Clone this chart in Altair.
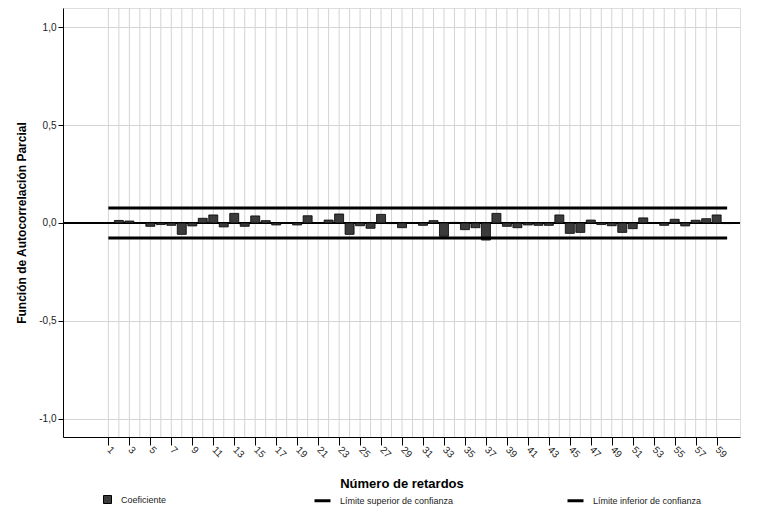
import altair as alt
import pandas as pd

# ---- data ----
lags = list(range(1, 61))
pacf = [0.001, 0.013, 0.010, -0.002, -0.017, -0.008, -0.012, -0.058, -0.015, 0.024,
        0.041, -0.020, 0.049, -0.017, 0.036, 0.012, -0.010, 0.002, -0.010, 0.037,
        0.002, 0.015, 0.046, -0.058, -0.014, -0.027, 0.044, -0.003, -0.024, 0.002,
        -0.012, 0.012, -0.068, 0.003, -0.034, -0.024, -0.087, 0.049, -0.017, -0.024,
        -0.010, -0.012, -0.012, 0.041, -0.053, -0.048, 0.015, -0.008, -0.014, -0.048,
        -0.029, 0.026, 0.002, -0.012, 0.019, -0.015, 0.014, 0.022, 0.041, -0.003]
serie_name = ["Coeficiente"]
limit_names = ["Límite superior de confianza", "Límite inferior de confianza"]
limit_values = [0.076, -0.076]
tick_lags = list(range(1, 60, 2))
grid_lags = list(range(1, 60))
y_ticks = [-1.0, -0.5, 0.0, 0.5, 1.0]

bars_df = pd.DataFrame({"lag": lags, "pacf": pacf, "serie": serie_name[0]})
lim_df = pd.DataFrame({"limite": limit_names, "valor": limit_values,
                       "desde": min(lags), "hasta": max(lags)})
grid_df = pd.DataFrame({"lag": grid_lags})

FONT = "Liberation Sans"
xscale = alt.Scale(domain=[-2.85, 60.75], nice=False, zero=False)
yscale = alt.Scale(domain=[-1.092, 1.097], nice=False)

x_axis = alt.Axis(values=tick_lags, grid=False, title="Número de retardos",
                  labelAngle=45, labelAlign="left", labelBaseline="middle",
                  labelFontSize=10, labelColor="#222", labelFont=FONT,
                  tickSize=8, tickColor="black", domainColor="black",
                  titleFontSize=13, titleFontWeight="bold", titleFont=FONT,
                  titleColor="black", titlePadding=18, labelPadding=3,
                  labelOverlap=False)
y_axis = alt.Axis(values=y_ticks, grid=True, gridColor="#d4d4d4",
                  labelExpr="(datum.value < 0 ? '-' : '') + replace(format(abs(datum.value), '.1f'), '.', ',')",
                  title="Función de Autocorrelación Parcial",
                  labelFontSize=10, labelColor="#222", labelFont=FONT,
                  tickSize=5, tickColor="black", domainColor="black",
                  titleFontSize=12, titleFontWeight="bold", titleFont=FONT,
                  titleColor="black", titlePadding=10, labelPadding=2)

vgrid = alt.Chart(grid_df).mark_rule(color="#d4d4d4", strokeWidth=1).encode(
    x=alt.X("lag:Q", scale=xscale, axis=x_axis),
)

zero = alt.Chart(bars_df).mark_rule(color="black", strokeWidth=1).encode(
    y=alt.datum(0, scale=yscale, axis=y_axis),
)

bars = alt.Chart(bars_df).mark_bar(width=9, stroke="black", strokeWidth=0.8).encode(
    x=alt.X("lag:Q", scale=xscale, axis=x_axis),
    y=alt.Y("pacf:Q", scale=yscale, axis=y_axis),
    fill=alt.Fill("serie:N", scale=alt.Scale(domain=serie_name, range=["#3b3b3b"]),
                  legend=alt.Legend(orient="none", legendX=40, legendY=487, title=None,
                                    symbolType="square", symbolSize=64,
                                    symbolStrokeColor="black", symbolStrokeWidth=1,
                                    labelFontSize=9, labelFont=FONT, labelColor="#222",
                                    labelOffset=9)),
)

limits = alt.Chart(lim_df).mark_rule(strokeWidth=3).encode(
    x=alt.X("desde:Q", scale=xscale, axis=x_axis),
    x2="hasta:Q",
    y=alt.Y("valor:Q", scale=yscale, axis=y_axis),
    stroke=alt.Stroke("limite:N", scale=alt.Scale(domain=limit_names, range=["black", "black"]),
                      legend=alt.Legend(orient="none", direction="horizontal", columns=2,
                                        legendX=250, legendY=483, title=None,
                                        symbolType="stroke", symbolSize=256,
                                        symbolStrokeWidth=3, symbolStrokeColor="black",
                                        columnPadding=107,
                                        labelFontSize=9, labelFont=FONT, labelColor="#222",
                                        labelOffset=8)),
)

chart = alt.layer(vgrid, zero, bars, limits).properties(
    width=677, height=429,
    autosize=alt.AutoSizeParams(type="none"),
    padding={"left": 55, "top": 0, "right": 8, "bottom": 70},
).configure_view(fill="#f0f0f0", stroke="black", strokeWidth=1).configure(
    background="white", font=FONT
).resolve_scale(fill="independent", stroke="independent")

chart.save("out.html", embed_options={"renderer": "svg", "actions": False})
